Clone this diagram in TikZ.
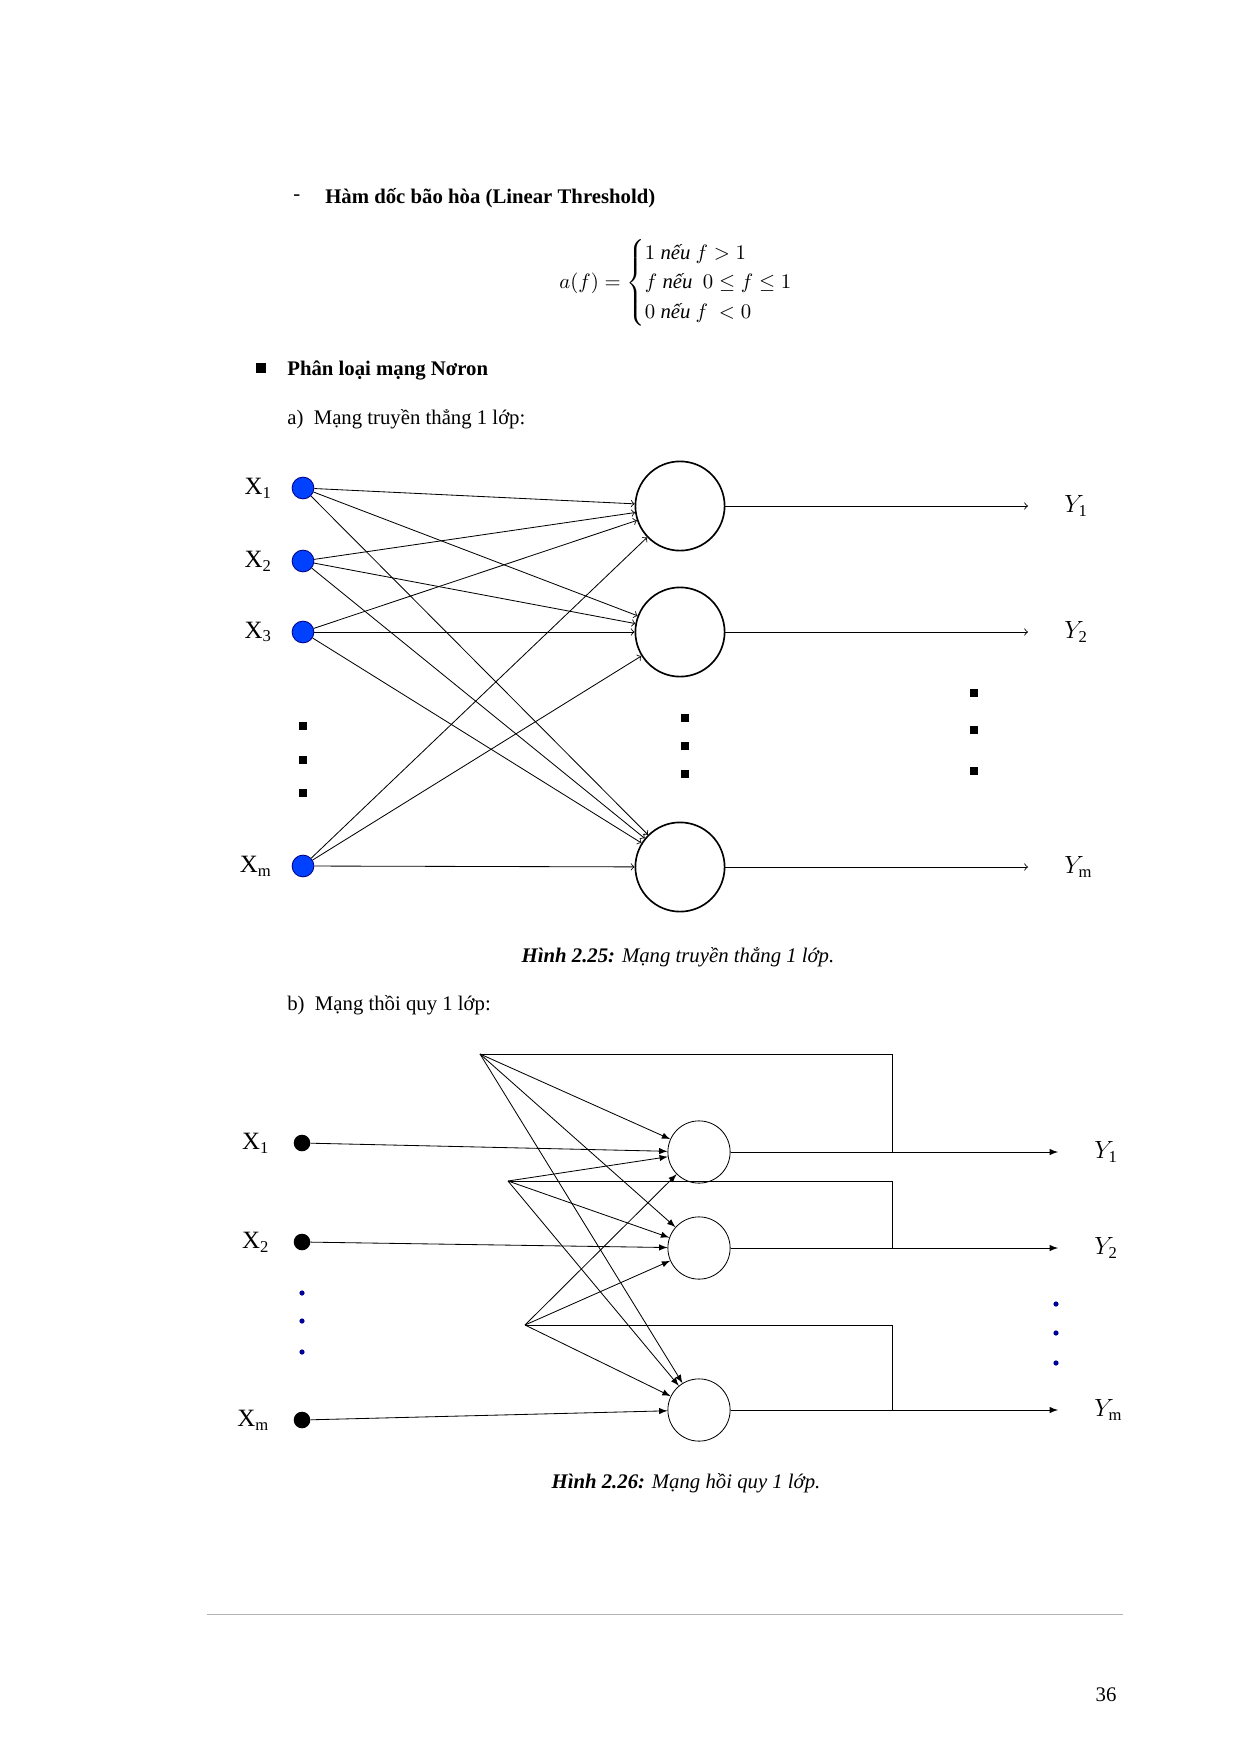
\documentclass[tikz,border=0pt]{standalone}
\usepackage{fontspec}
\usepackage{amsmath}
\usetikzlibrary{positioning}
\setmainfont{Liberation Serif}
\begin{document}
\begin{tikzpicture}[x=0.01694cm,y=-0.01694cm]
          % Define styles
          \tikzset{
            neuron/.style={circle, draw, thick, inner sep=0pt},
            wire/.style={->, >=to, thin},
            rwire/.style={-latex, thin},
            sq/.style={fill, minimum size=4pt, inner sep=0pt}
          }
          \useasboundingbox (0,0) rectangle (1240,1754);

          % Text above the figures
          \node[anchor=west] at (286,198) {-};
          \node[anchor=west] at (318,198) {\bfseries Hàm dốc bão hòa (Linear Threshold)};
          \node[anchor=west] at (552,283) {$a(f) = \begin{cases} 1 \textit{ nếu } f > 1\\ f \textit{ nếu }\ 0 \le f \le 1\\ 0 \textit{ nếu } f\ < 0\end{cases}$};
          \node[sq, minimum size=5pt] at (261,368) {};
          \node[anchor=west] at (280,370) {\bfseries Phân loại mạng Nơron};
          \node[anchor=west] at (280,419) {a)\ \ Mạng truyền thẳng 1 lớp:};

          % Figure 2.25: inputs
          \foreach \n/\y/\t in {1/488/1, 2/561/2, 3/632/3, m/866/m} {
               \node[circle, fill=blue!75!cyan, draw=blue!50!black, minimum size=10.5pt, inner sep=0pt] (x\n) at (303,\y) {};
               \node[left=6pt of x\n] {\large X$_{\mathrm{\t}}$};
          }
          % neurons and outputs
          \foreach \n/\y in {1/506, 2/632, m/867} {
               \node[neuron, minimum size=43pt] (n\n) at (680,\y) {};
               \coordinate (o\n) at (1028,\y);
               \draw[wire] (n\n) -- (o\n);
               \node[right=14pt of o\n] {\large $Y_{\mathrm{\n}}$};
          }
          % all connections
          \foreach \i in {1,2,3,m} {
               \foreach \j in {1,2,m} {
                    \draw[wire] (x\i) -- (n\j);
               }
          }
          % vertical dots
          \foreach \y in {726,760,793} \node[sq] at (303,\y) {};
          \foreach \y in {718,746,774} \node[sq] at (685,\y) {};
          \foreach \y in {693,730,771} \node[sq] at (974,\y) {};

          \node at (678,957) {\textbf{\textit{Hình 2.25:}} \textit{Mạng truyền thẳng 1 lớp.}};
          \node[anchor=west] at (280,1005) {b)\ \ Mạng thồi quy 1 lớp:};

          % Figure 2.26: inputs
          \foreach \n/\y/\t in {1/1143/1, 2/1242/2, m/1420/m} {
               \node[circle, fill=black, minimum size=8pt, inner sep=0pt] (r\n) at (302,\y) {};
               \node[left=8pt of r\n] {\large X$_{\mathrm{\t}}$};
          }
          \foreach \y in {1293,1321,1352} \node[circle, fill=blue!60!black, minimum size=2.5pt, inner sep=0pt] at (302,\y) {};
          % neurons, outputs and feedback
          \foreach \n/\y/\fy/\fx in {1/1152/1054/480, 2/1248/1181/508, m/1410/1325/525} {
               \node[neuron, thin, minimum size=30pt] (k\n) at (699,\y) {};
               \coordinate (q\n) at (1058,\y);
               \coordinate (s\n) at (892,\y);
               \coordinate (f\n) at (\fx,\fy);
               \draw[rwire] (k\n) -- (q\n);
               \node[right=14pt of q\n] {\large $Y_{\mathrm{\n}}$};
               \draw (s\n) |- (f\n);
               \draw[rwire] (r\n) -- (k\n);
          }
          \foreach \i in {1,2,m} {
               \foreach \j in {1,2,m} {
                    \draw[rwire] (f\i) -- (k\j);
               }
          }
          \foreach \y in {1304,1333,1363} \node[circle, fill=blue!60!black, minimum size=2.5pt, inner sep=0pt] at (1056,\y) {};

          \node at (686,1483) {\textbf{\textit{Hình 2.26:}} \textit{Mạng hồi quy 1 lớp.}};

          % Footer
          \draw[gray!60] (207,1614) -- (1123,1614);
          \node at (1106,1695) {36};
\end{tikzpicture}
\end{document}
